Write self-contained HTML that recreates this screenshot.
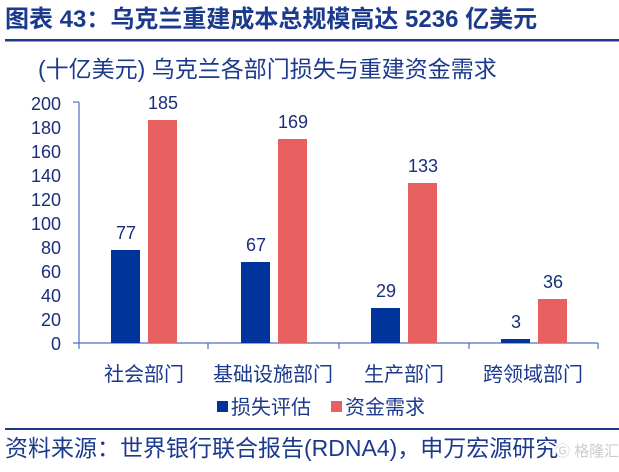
<!DOCTYPE html>
<html><head><meta charset="utf-8"><style>
body{margin:0;width:619px;height:467px;background:#fff;overflow:hidden;font-family:"Liberation Sans","Noto Sans CJK SC",sans-serif;}
</style></head><body>
<svg width="619" height="467" xmlns="http://www.w3.org/2000/svg" font-family="Liberation Sans, Noto Sans CJK SC, sans-serif">
<text x="5" y="27" font-size="24" font-weight="bold" fill="#1b3a8e">图表 43：乌克兰重建成本总规模高达 5236 亿美元</text>
<rect x="5" y="39" width="614" height="2.5" fill="#1b3a8e"/>
<text x="38" y="77" font-size="23" fill="#1b3a8e">(十亿美元) 乌克兰各部门损失与重建资金需求</text>
<g font-size="18" fill="#1a2f7a" text-anchor="end">
<text x="61" y="110">200</text><text x="61" y="134">180</text><text x="61" y="158">160</text>
<text x="61" y="182">140</text><text x="61" y="206">120</text><text x="61" y="230">100</text>
<text x="61" y="254">80</text><text x="61" y="278">60</text><text x="61" y="302">40</text>
<text x="61" y="326">20</text><text x="61" y="350">0</text>
</g>
<g stroke="#4a72c4" stroke-width="1.2" fill="none">
<line x1="79" y1="102" x2="79" y2="343"/>
<line x1="73" y1="102" x2="79" y2="102"/>
<line x1="73" y1="343" x2="598" y2="343"/>
<line x1="79" y1="343" x2="79" y2="349"/><line x1="208" y1="343" x2="208" y2="349"/>
<line x1="339" y1="343" x2="339" y2="349"/><line x1="469" y1="343" x2="469" y2="349"/>
<line x1="598" y1="343" x2="598" y2="349"/>
</g>
<g fill="#00349a">
<rect x="111" y="250" width="29" height="93"/>
<rect x="241" y="262" width="29" height="81"/>
<rect x="371" y="308" width="29" height="35"/>
<rect x="501" y="339" width="29" height="4"/>
</g>
<g fill="#e86060">
<rect x="148" y="120" width="29" height="223"/>
<rect x="278" y="139" width="29" height="204"/>
<rect x="408" y="183" width="29" height="160"/>
<rect x="538" y="299" width="29" height="44"/>
</g>
<g font-size="18" fill="#1a2f7a" text-anchor="middle">
<text x="126" y="239">77</text><text x="163" y="109">185</text>
<text x="256" y="251">67</text><text x="293" y="128">169</text>
<text x="386" y="297">29</text><text x="423" y="172">133</text>
<text x="516" y="328">3</text><text x="553" y="288">36</text>
</g>
<g font-size="20" fill="#1b3a8e" text-anchor="middle">
<text x="144" y="381">社会部门</text><text x="273" y="381">基础设施部门</text>
<text x="404" y="381">生产部门</text><text x="533" y="381">跨领域部门</text>
</g>
<rect x="217" y="401" width="11" height="11" fill="#00349a"/>
<text x="231" y="414" font-size="20" fill="#1b3a8e">损失评估</text>
<rect x="331" y="401" width="11" height="11" fill="#e86060"/>
<text x="345" y="414" font-size="20" fill="#1b3a8e">资金需求</text>
<rect x="5" y="428" width="614" height="2" fill="#1b3a8e"/>
<text x="5" y="456" font-size="23" fill="#1b3a8e">资料来源：世界银行联合报告(RDNA4)，申万宏源研究</text>
<text x="555" y="456" font-size="15" fill="#cccccc">Ⓖ 格隆汇</text>
</svg>
</body></html>
